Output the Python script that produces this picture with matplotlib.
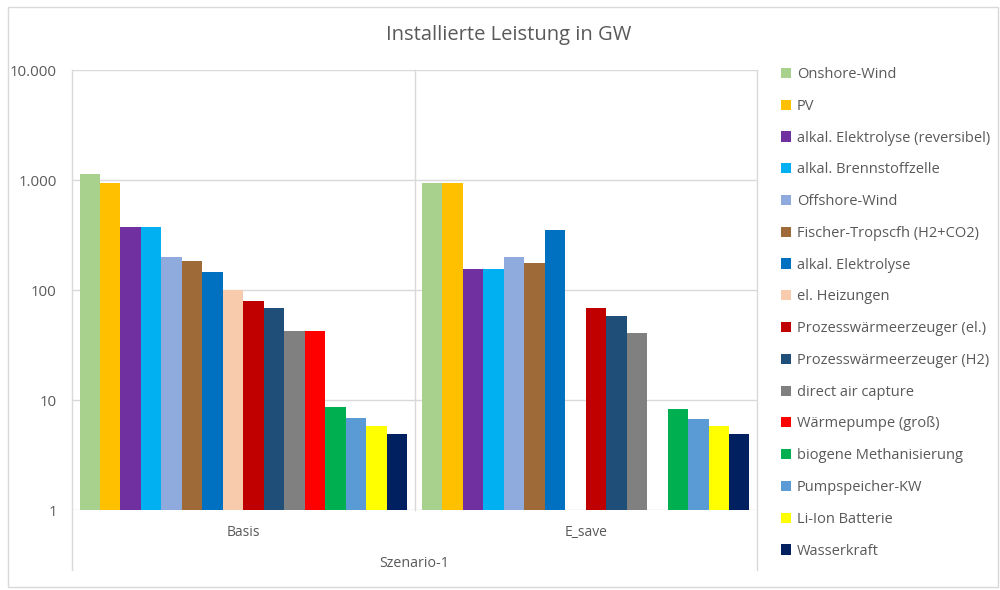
import numpy as np
import matplotlib
matplotlib.use("Agg")
import matplotlib.pyplot as plt
from matplotlib.ticker import FixedLocator, FixedFormatter, NullLocator
from matplotlib.patches import Rectangle
from matplotlib.lines import Line2D

plt.rcParams['font.family'] = ['Open Sans', 'DejaVu Sans']

categories = ["Basis", "E_save"]
group_label = "Szenario-1"
technologies = [
    "Onshore-Wind", "PV", "alkal. Elektrolyse (reversibel)", "alkal. Brennstoffzelle",
    "Offshore-Wind", "Fischer-Tropscfh (H2+CO2)", "alkal. Elektrolyse", "el. Heizungen",
    "Prozesswärmeerzeuger (el.)", "Prozesswärmeerzeuger (H2)", "direct air capture",
    "Wärmepumpe (groß)", "biogene Methanisierung", "Pumpspeicher-KW", "Li-Ion Batterie",
    "Wasserkraft",
]
basis_values = [1130, 935, 376, 376, 201, 185, 147, 99, 79, 69, 42.5, 42,
                8.6, 6.8, 5.85, 4.9]
esave_values = [945, 945, 154, 154, 201, 175, 351, np.nan, 68, 58, 40.5, np.nan,
                8.35, 6.7, 5.8, 4.9]
colors = ["#A9D18E", "#FFC000", "#7030A0", "#00B0F0", "#8FAADC", "#9E6A38",
          "#0070C0", "#F8CBAD", "#C00000", "#1F4E79", "#808080", "#FF0000",
          "#00B050", "#5B9BD5", "#FFFF00", "#002060"]
y_ticks = [1, 10, 100, 1000, 10000]
y_tick_labels = ["1", "10", "100", "1.000", "10.000"]
title = "Installierte Leistung in GW"

text_color = "#595959"
grid_color = "#D9D9D9"

fig = plt.figure(figsize=(10, 5.9), dpi=100)
ax = fig.add_axes([0.072, 1 - 510 / 590, 0.685, 440 / 590])
ax.set_yscale('log')

n = len(technologies)
bar_w = 0.956 / n
x_cat = np.arange(len(categories))
for i, (tech, col) in enumerate(zip(technologies, colors)):
    vals = [basis_values[i], esave_values[i]]
    offs = -0.478 + (i + 0.5) * bar_w
    ax.bar(x_cat + offs, vals, width=bar_w, color=col, label=tech, linewidth=0, zorder=3)

ax.set_xlim(-0.5, 1.5)
ax.set_ylim(1, 10000)
ax.yaxis.set_major_locator(FixedLocator(y_ticks))
ax.yaxis.set_major_formatter(FixedFormatter(y_tick_labels))
ax.yaxis.set_minor_locator(NullLocator())
ax.set_xticks([])
ax.tick_params(axis='y', length=0, pad=11, labelsize=10.8, labelcolor=text_color)
ax.grid(axis='y', color=grid_color, linewidth=1, zorder=0)
for s in ax.spines.values():
    s.set_visible(False)

# category separators (vertical lines) incl. extension below axis
for xa in [0.0, 0.5, 1.0]:
    ax.add_line(Line2D([xa, xa], [-0.136 if xa != 0.5 else 0.0, 1.0], transform=ax.transAxes,
                       color=grid_color, linewidth=1, clip_on=False, zorder=1))

# category labels
for xc, lab in zip(x_cat, categories):
    ax.text(xc, -0.052, lab, transform=ax.get_xaxis_transform(), ha='center', va='center',
            fontsize=10, color=text_color)
ax.text(0.5, -0.122, group_label, transform=ax.transAxes, ha='center', va='center',
        fontsize=10.3, color=text_color)

fig.text(0.509, 1 - 35 / 590, title, ha='center', va='center', fontsize=14.5, color=text_color)

leg = fig.legend(loc='upper left', bbox_to_anchor=(0.781, 1 - 67 / 590), frameon=False,
                 fontsize=10.5, labelspacing=1.15, handlelength=0.7, handleheight=0.7,
                 handletextpad=0.4, borderaxespad=0, borderpad=0)
for t in leg.get_texts():
    t.set_color(text_color)

# outer chart border
fig.patches.append(Rectangle((0.008, 0.005), 0.99, 0.983, transform=fig.transFigure,
                             fill=False, edgecolor="#D9D9D9", linewidth=1))

fig.savefig("out.png", dpi=100)
